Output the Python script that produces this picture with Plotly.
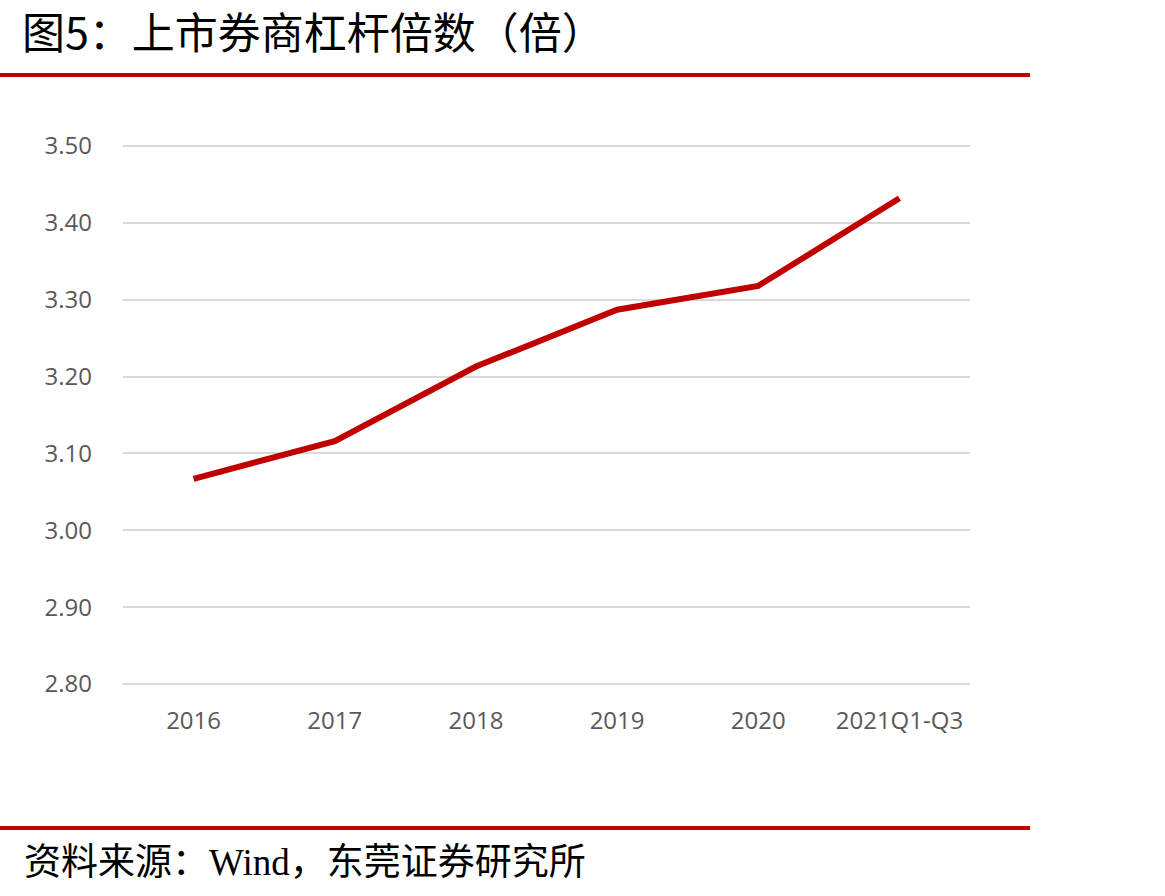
import plotly.graph_objects as go

categories = ["2016", "2017", "2018", "2019", "2020", "2021Q1-Q3"]
leverage = [3.067, 3.116, 3.213, 3.287, 3.318, 3.432]
y_ticks = [2.80, 2.90, 3.00, 3.10, 3.20, 3.30, 3.40, 3.50]

title_text = "图5：上市券商杠杆倍数（倍）"
source_text = "资料来源：Wind，东莞证券研究所"

W, H = 1165, 896
L, R, T, B = 123, 970, 142, 688
pad_units = 4 / (538 / 0.7)

def px(x):
    return (x - L) / (R - L)

def py(y):
    return (B - y) / (B - T)

fig = go.Figure()
fig.add_trace(go.Scatter(
    x=categories, y=leverage, mode="lines",
    line=dict(color="#C00000", width=6),
    hoverinfo="skip", showlegend=False,
))

tick_font = dict(family="Open Sans, sans-serif", size=24, color="#595959")

fig.update_layout(
    width=W, height=H,
    margin=dict(l=L, r=W - R, t=T, b=H - B, pad=0),
    paper_bgcolor="white", plot_bgcolor="white",
    showlegend=False,
    xaxis=dict(
        type="category", range=[-0.5, 5.5], showgrid=False, zeroline=False,
        showline=False, ticks="", ticklabelstandoff=16, tickfont=tick_font,
    ),
    yaxis=dict(
        range=[2.80 - pad_units, 3.50 + pad_units], tickvals=y_ticks,
        ticktext=[f"{v:.2f}" for v in y_ticks],
        showgrid=True, gridcolor="#D9D9D9", gridwidth=2, zeroline=False,
        showline=False, ticks="", ticklabelstandoff=30, tickfont=tick_font,
    ),
    shapes=[
        dict(type="line", xref="paper", yref="paper", x0=px(0), x1=px(1030),
             y0=py(75), y1=py(75), line=dict(color="#C00000", width=4)),
        dict(type="line", xref="paper", yref="paper", x0=px(0), x1=px(1030),
             y0=py(828), y1=py(828), line=dict(color="#C00000", width=4)),
    ],
    annotations=[
        dict(text=title_text, xref="paper", yref="paper", x=px(20), y=py(30),
             xanchor="left", yanchor="middle", showarrow=False,
             font=dict(family="Noto Sans CJK SC", size=43, color="black")),
        dict(text=source_text, xref="paper", yref="paper", x=px(22), y=py(862),
             xanchor="left", yanchor="middle", showarrow=False,
             font=dict(family="Liberation Serif, Noto Sans CJK SC", size=37, color="black")),
    ],
)

fig.write_html("out.html")
